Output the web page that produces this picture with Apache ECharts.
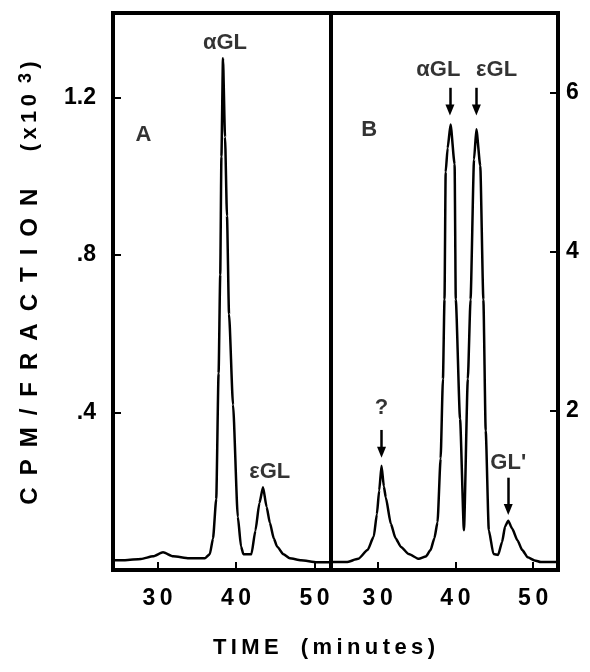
<!DOCTYPE html>
<html>
<head>
<meta charset="utf-8">
<script src="https://cdn.jsdelivr.net/npm/echarts@6/dist/echarts.min.js"></script>
<style>html,body{margin:0;padding:0;background:#fff;}#c{width:590px;height:672px;}</style>
</head>
<body>
<div id="c"></div>
<script>
// Panel A: time (min) and CPM/fraction (x10^3)
const timeA = [24.33, 25.86, 27.9, 29.43, 30.7, 32.0, 34.0, 36.05, 36.66, 37.07, 37.48, 37.78, 37.99, 38.14, 38.34, 38.6, 38.85, 39.11, 39.62, 40.23, 40.64, 40.94, 41.96, 42.47, 42.98, 43.44, 43.9, 44.31, 44.82, 45.22, 46.04, 46.85, 48.27, 50.31, 52.1];
const cpmA  = [0.025, 0.025, 0.028, 0.035, 0.045, 0.035, 0.03, 0.03, 0.04, 0.08, 0.18, 0.5, 0.75, 1.05, 1.30, 1.1, 0.9, 0.65, 0.42, 0.135, 0.06, 0.04, 0.04, 0.1, 0.17, 0.21, 0.16, 0.12, 0.08, 0.06, 0.04, 0.03, 0.025, 0.02, 0.02];
// Panel B
const timeB = [24, 26, 27.5, 28.7, 29.5, 29.9, 30.2, 30.5, 30.8, 31.05, 31.7, 32.3, 33, 34, 35.3, 36.2, 36.8, 37.3, 37.7, 38.1, 38.4, 38.6, 38.75, 39.0, 39.38, 39.9, 40.05, 40.6, 41.1, 41.6, 41.95, 42.4, 42.7, 43.2, 43.6, 43.9, 44.3, 44.9, 45.5, 46.0, 46.4, 46.8, 47.3, 48, 48.6, 49.3, 50.2, 51, 53.2];
const cpmB  = [0.1, 0.1, 0.14, 0.25, 0.42, 0.7, 1.0, 1.31, 1.05, 0.91, 0.58, 0.4, 0.29, 0.2, 0.14, 0.17, 0.25, 0.4, 0.6, 1.4, 2.4, 3.4, 5.0, 5.3, 5.6, 5.1, 3.4, 1.9, 0.5, 2.4, 3.4, 5.16, 5.54, 5.08, 3.4, 1.75, 0.5, 0.2, 0.19, 0.35, 0.55, 0.62, 0.52, 0.37, 0.25, 0.16, 0.12, 0.1, 0.1];

const xTicks = [30, 40, 50];
const yTicksA = [0.4, 0.8, 1.2];
const yTicksB = [2, 4, 6];

// annotations: [x, y, text]
const labelsA = [[38.6, 1.34, 'αGL'], [28.2, 1.105, 'A'], [44.3, 0.25, 'εGL']];
const labelsB = [[28.9, 5.53, 'B'], [37.8, 6.28, 'αGL'], [45.3, 6.28, 'εGL'], [30.5, 2.04, '?'], [46.8, 1.34, "GL'"]];
// arrows: [x, yStart, yEnd]
const arrowsB = [[39.3, 6.06, 5.78], [42.7, 6.06, 5.78], [30.5, 1.76, 1.48], [46.8, 1.16, 0.76]];

const FONT = 'Liberation Sans';
const chart = echarts.init(document.getElementById('c'));

function xAxis(idx, min, max) {
  return {
    type: 'value', gridIndex: idx, min: min, max: max,
    splitLine: {show: false},
    axisLine: {show: false},
    axisTick: {show: true, inside: true, length: 8, customValues: xTicks, lineStyle: {color: '#000', width: 2}},
    axisLabel: {show: true, customValues: xTicks, margin: 17, color: '#000', fontFamily: FONT, fontSize: 23, fontWeight: 'bold',
      formatter: v => String(v).split('').join('\u2009')}
  };
}

function labelSeries(xi, yi, data) {
  return {
    type: 'scatter', xAxisIndex: xi, yAxisIndex: yi, symbolSize: 0, silent: true,
    data: data.map(d => ({value: [d[0], d[1]], name: d[2]})),
    label: {show: true, position: 'inside', formatter: p => p.name, color: '#000', fontFamily: FONT, fontSize: 22, fontWeight: 'bold'}
  };
}

chart.setOption({
  animation: false,
  backgroundColor: '#fff',
  grid: [
    {left: 113, right: 259, top: 13, bottom: 102, show: true, borderColor: '#000', borderWidth: 4},
    {left: 331, right: 32, top: 13, bottom: 102, show: true, borderColor: '#000', borderWidth: 4}
  ],
  xAxis: [xAxis(0, 24.33, 52.1), xAxis(1, 24, 53.2)],
  yAxis: [
    {type: 'value', gridIndex: 0, min: 0, max: 1.415, position: 'left',
      splitLine: {show: false}, axisLine: {show: false},
      axisTick: {show: true, inside: true, length: 8, customValues: yTicksA, lineStyle: {color: '#000', width: 2}},
      axisLabel: {customValues: yTicksA, margin: 17, color: '#000', fontFamily: FONT, fontSize: 23, fontWeight: 'bold',
        formatter: v => (v < 1 ? String(v).replace('0.', '.') : v.toFixed(1))}},
    {type: 'value', gridIndex: 1, min: 0, max: 7.0, position: 'right',
      splitLine: {show: false}, axisLine: {show: false},
      axisTick: {show: true, inside: true, length: 8, customValues: yTicksB, lineStyle: {color: '#000', width: 2}},
      axisLabel: {customValues: yTicksB, margin: 8, color: '#000', fontFamily: FONT, fontSize: 23, fontWeight: 'bold'}}
  ],
  series: [
    {type: 'line', xAxisIndex: 0, yAxisIndex: 0, showSymbol: false, smooth: 0.2, smoothMonotone: 'x',
      lineStyle: {color: '#000', width: 2.5}, data: timeA.map((t, i) => [t, cpmA[i]])},
    {type: 'line', xAxisIndex: 1, yAxisIndex: 1, showSymbol: false, smooth: 0.2, smoothMonotone: 'x',
      lineStyle: {color: '#000', width: 2.5}, data: timeB.map((t, i) => [t, cpmB[i]])},
    labelSeries(0, 0, labelsA),
    Object.assign(labelSeries(1, 1, labelsB), {
      markLine: {
        silent: true, symbol: ['none', 'triangle'], symbolSize: [9, 11], label: {show: false},
        lineStyle: {color: '#000', width: 2.5, type: 'solid'},
        data: arrowsB.map(a => [{coord: [a[0], a[1]]}, {coord: [a[0], a[2]]}])
      }
    })
  ],
  graphic: [
    {type: 'text', x: 30, y: 283, rotation: Math.PI / 2, silent: true,
      style: {
        text: '{a|C\u2002P\u2002M\u2002/\u2002F\u2002R\u2002A\u2002C\u2002T\u2002I\u2002O\u2002N}{b|\u2003\u2002\u2009(\u2009x\u20091\u20090\u2002}{c|3}{b|\u2009)}',
        align: 'center', verticalAlign: 'middle', fill: '#000',
        rich: {
          a: {fontFamily: FONT, fontSize: 24, fontWeight: 'bold', fill: '#000'},
          b: {fontFamily: FONT, fontSize: 22, fontWeight: 'bold', fill: '#000'},
          c: {fontFamily: FONT, fontSize: 18, fontWeight: 'bold', fill: '#000', padding: [0, 0, 8, 0]}
        }
      }},
    {type: 'text', x: 324, y: 648, silent: true,
      style: {text: 'T\u2009I\u2009M\u2009E\u2003(\u2009m\u2009i\u2009n\u2009u\u2009t\u2009e\u2009s\u2009)', align: 'center', verticalAlign: 'middle', fill: '#000',
        fontFamily: FONT, fontSize: 22, fontWeight: 'bold'}}
  ]
});
</script>
</body>
</html>
